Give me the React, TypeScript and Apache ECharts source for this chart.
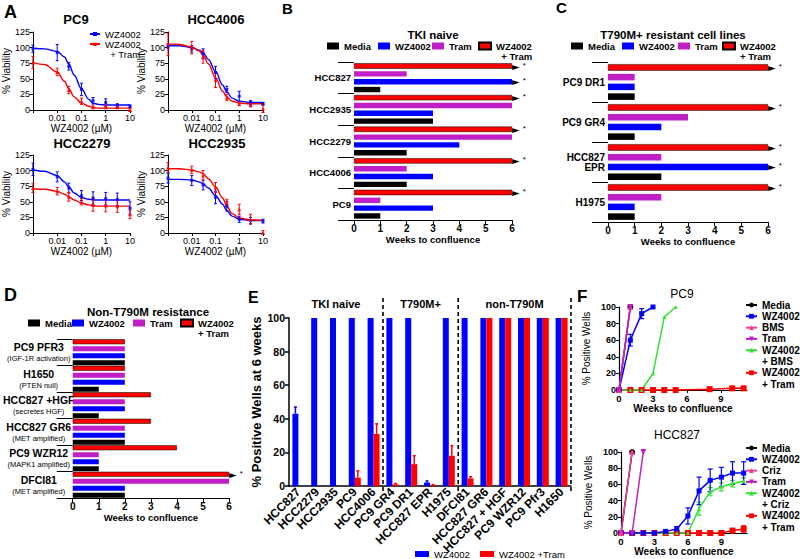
import React, { useEffect, useRef } from 'react';
import * as echarts from 'echarts';

const FONT = '"Liberation Sans", Arial, Helvetica, sans-serif';
const BLUE = '#0000ff';
const RED = '#ff0000';
const MAGENTA = '#c01fc8';
const BLACK = '#000000';
const GREEN = '#33e033';
const PINK = '#f03c96';

// ---------------- Panel A: dose response ----------------
const A_DOSES = [0.001, 0.01, 0.03, 0.1, 0.3, 1, 3, 10];
const A_FIT_DOSES = [0.001, 0.003, 0.01, 0.02, 0.03, 0.05, 0.1, 0.2, 0.3, 0.5, 1, 3, 10];
const A_X_LABELS = ['', '0.01', '0.1', '1', '10'];
const A_TITLES = ['PC9', 'HCC4006', 'HCC2279', 'HCC2935'];

const PC9_WZ = [98, 92, 70, 33, 15, 12, 7, 6];
const PC9_WZ_SD = [6, 13, 6, 10, 5, 6, 3, 2];
const PC9_WZ_FIT = [99, 98, 94, 85, 74, 56, 34, 17, 11, 9, 8, 8, 8];
const PC9_CO = [76, 61, 32, 14, 5, 5, 5, 0];
const PC9_CO_SD = [10, 6, 6, 5, 3, 3, 3, 2];
const PC9_CO_FIT = [76, 73, 61, 46, 34, 21, 11, 6, 4, 3, 3, 3, 3];

const HCC4006_WZ = [102, 98, 90, 60, 33, 22, 12, 10];
const HCC4006_WZ_SD = [4, 5, 8, 10, 5, 8, 3, 2];
const HCC4006_WZ_FIT = [103, 103, 100, 96, 92, 81, 62, 40, 29, 19, 14, 12, 12];
const HCC4006_CO = [105, 100, 85, 48, 20, 10, 8, 2];
const HCC4006_CO_SD = [18, 10, 10, 12, 5, 3, 3, 6];
const HCC4006_CO_FIT = [106, 105, 101, 95, 88, 74, 52, 30, 21, 14, 11, 10, 10];

const HCC2279_WZ = [102, 90, 72, 60, 56, 55, 54, 40];
const HCC2279_WZ_SD = [10, 8, 8, 8, 10, 10, 10, 10];
const HCC2279_WZ_FIT = [101, 99, 92, 82, 74, 64, 57, 54, 53, 53, 53, 53, 53];
const HCC2279_CO = [72, 67, 58, 50, 45, 44, 43, 30];
const HCC2279_CO_SD = [7, 6, 7, 5, 10, 10, 10, 7];
const HCC2279_CO_FIT = [71, 70, 67, 62, 58, 53, 48, 45, 44, 43, 43, 43, 43];

const HCC2935_WZ = [88, 84, 77, 57, 43, 22, 20, 19];
const HCC2935_WZ_SD = [8, 8, 8, 10, 8, 5, 5, 3];
const HCC2935_WZ_FIT = [86, 86, 85, 82, 79, 72, 60, 46, 36, 27, 22, 20, 20];
const HCC2935_CO = [105, 101, 92, 73, 48, 38, 22, 1];
const HCC2935_CO_SD = [8, 6, 8, 8, 6, 8, 8, 3];
const HCC2935_CO_FIT = [103, 103, 101, 98, 95, 87, 74, 56, 43, 31, 24, 21, 20];

// ---------------- Panel B ----------------
const B_CATS = ['HCC827', 'HCC2935', 'HCC2279', 'HCC4006', 'PC9'];
const B_MEDIA = [1, 3, 2, 2, 1];
const B_WZ = [6, 3, 4, 3, 3];
const B_TRAM = [2, 6, 6, 2, 1];
const B_COMBO = [6, 6, 6, 6, 6];
const B_WZ_CENSORED = [1, 0, 0, 0, 0];
const B_COMBO_CENSORED = [1, 1, 1, 1, 1];

// ---------------- Panel C ----------------
const C_CATS = ['PC9 DR1', 'PC9 GR4', 'HCC827\nEPR', 'H1975'];
const C_MEDIA = [1, 1, 2, 1];
const C_WZ = [1, 2, 6, 1];
const C_TRAM = [1, 3, 2, 2];
const C_COMBO = [6, 6, 6, 6];
const C_WZ_CENSORED = [0, 0, 1, 0];
const C_COMBO_CENSORED = [1, 1, 1, 1];

// ---------------- Panel D ----------------
const D_CATS = ['PC9 PFR3', 'H1650', 'HCC827 +HGF', 'HCC827 GR6', 'PC9 WZR12', 'DFCI81'];
const D_SUBS = ['(IGF-1R activation)', '(PTEN null)', '(secretes HGF)', '(MET amplified)', '(MAPK1 amplified)', '(MET amplified)'];
const D_MEDIA = [2, 1, 1, 2, 1, 2];
const D_WZ = [2, 2, 2, 2, 1, 2];
const D_TRAM = [2, 2, 2, 2, 1, 6];
const D_COMBO = [2, 2, 3, 3, 4, 6];
const D_WZ_CENSORED = [0, 0, 0, 0, 0, 0];
const D_COMBO_CENSORED = [0, 0, 0, 0, 0, 1];

// ---------------- Panel E ----------------
const E_CATS = ['HCC827', 'HCC2279', 'HCC2935', 'PC9', 'HCC4006', 'PC9 GR4', 'PC9 DR1', 'HCC827 EPR', 'H1975', 'DFCI81', 'HCC827 GR6', 'HCC827 + HGF', 'PC9 WZR12', 'PC9 Pfr3', 'H1650'];
const E_WZ = [43, 100, 100, 100, 100, 100, 100, 2, 100, 100, 100, 100, 100, 100, 100];
const E_WZ_SD = [4, 0, 0, 0, 0, 0, 0, 1, 0, 0, 0, 0, 0, 0, 0];
const E_COMBO = [0, 0, 0, 5, 31, 1, 13, 0.5, 18, 4.5, 100, 100, 100, 100, 100];
const E_COMBO_SD = [0, 0, 0, 4, 6, 0.5, 5, 0.3, 6, 1, 0, 0, 0, 0, 0];
const E_GROUP_LABELS = ['TKI naive', 'T790M+', 'non-T790M'];
const E_GROUP_FIRST = [0, 5, 9];
const E_GROUP_LAST = [4, 8, 14];

// ---------------- Panel F ----------------
const F_PC9_MEDIA = [[0, 0], [1, 100]];
const F_PC9_WZ = [[0, 0], [1, 60], [2, 92], [3, 100]];
const F_PC9_WZ_SD = [0, 7, 6, 0];
const F_PC9_BMS = [[0, 0], [1, 100]];
const F_PC9_TRAM = [[0, 0], [1, 100]];
const F_PC9_WZBMS = [[0, 0], [1, 0], [2, 0], [3, 20], [4, 88], [5, 100]];
const F_PC9_WZTRAM = [[0, 0], [1, 0], [2, 0], [3, 0], [4, 0], [5, 0], [8, 1], [10, 2], [11, 2]];

const F_827_WEEKS = [0, 1, 2, 3, 4, 5, 6, 7, 8, 9, 10, 11];
const F_827_MEDIA = [[0, 0], [1, 100]];
const F_827_CRIZ = [[0, 0], [1, 100]];
const F_827_TRAM = [[0, 0], [1, 0], [2, 100]];
const F_827_WZ = [0, 0, 0, 0, 2, 5, 21, 52, 65, 69, 74, 74];
const F_827_WZ_SD = [0, 0, 0, 0, 1, 3, 10, 17, 14, 12, 14, 14];
const F_827_WZCRIZ = [0, 0, 0, 0, 0, 0, 0, 30, 51, 57, 61, 64];
const F_827_WZCRIZ_SD = [0, 0, 0, 0, 0, 0, 0, 8, 5, 5, 4, 4];
const F_827_WZTRAM = [0, 0, 0, 0, 0, 0, 0, 0, 0, 0, 3, 5];
const F_827_WZTRAM_SD = [0, 0, 0, 0, 0, 0, 0, 0, 0, 0, 2, 4];

// ---------------- helpers ----------------
const GRIDS = [
  { left: 32, top: 32, width: 98, height: 78 },
  { left: 168, top: 32, width: 95, height: 78 },
  { left: 32, top: 155, width: 98, height: 78 },
  { left: 168, top: 155, width: 95, height: 78 },
  { left: 354, top: 62, width: 158, height: 158 },
  { left: 608, top: 62, width: 160, height: 160 },
  { left: 69, top: 339, width: 160, height: 159 },
  { left: 289, top: 318, width: 282, height: 168 },
  { left: 619, top: 307, width: 128, height: 83 },
  { left: 621, top: 452, width: 126, height: 81 },
];

const label = (n: string) => n.split('|')[1];

function errorBars(color: string, offset = 0, upOnly = false, cap = 2, width = 1) {
  return (_p: any, api: any) => {
    const x = api.value(0);
    const y = api.value(1);
    const e = api.value(2);
    const hi = api.coord([x, y + e]);
    const lo = api.coord([x, upOnly ? y : y - e]);
    const px = hi[0] + offset;
    const style = { stroke: color, lineWidth: width };
    const children: any[] = [
      { type: 'line', shape: { x1: px, y1: hi[1], x2: px, y2: lo[1] }, style },
      { type: 'line', shape: { x1: px - cap, y1: hi[1], x2: px + cap, y2: hi[1] }, style },
    ];
    if (!upOnly) children.push({ type: 'line', shape: { x1: px - cap, y1: lo[1], x2: px + cap, y2: lo[1] }, style });
    return { type: 'group', children };
  };
}

// one legend component per item, so that each icon sits exactly where the reference puts it;
// multi-line names get a leading blank line so the first text line stays level with the icon
function legendItem(name: string, left: number, cy: number, o: { w: number; h: number; fs: number; lh: number; bold?: boolean; icon?: string }) {
  const lines = label(name).split('\n').length;
  const top = cy - Math.max(o.h / 2, (lines - 0.5) * o.lh);
  const lg: any = {
    show: true,
    orient: 'horizontal',
    left,
    top,
    padding: 0,
    itemWidth: o.w,
    itemHeight: o.h,
    data: [name],
    selectedMode: false,
    formatter: (n: string) => {
      const t = label(n);
      const k = t.split('\n').length;
      return k > 1 ? '\n'.repeat(k - 1) + t : t;
    },
    textStyle: {
      fontFamily: FONT,
      fontSize: o.fs,
      fontWeight: o.bold ? 'bold' : 'normal',
      color: '#000',
      lineHeight: o.lh,
    },
  };
  if (o.icon) lg.icon = o.icon;
  return lg;
}

const axisBlack = { lineStyle: { color: '#000', width: 1 } };

function buildOption() {
  const xAxes: any[] = [];
  const yAxes: any[] = [];
  const series: any[] = [];
  const legends: any[] = [];

  // ----- Panel A -----
  const A_WZ = [PC9_WZ, HCC4006_WZ, HCC2279_WZ, HCC2935_WZ];
  const A_WZ_SD = [PC9_WZ_SD, HCC4006_WZ_SD, HCC2279_WZ_SD, HCC2935_WZ_SD];
  const A_WZ_FIT = [PC9_WZ_FIT, HCC4006_WZ_FIT, HCC2279_WZ_FIT, HCC2935_WZ_FIT];
  const A_CO = [PC9_CO, HCC4006_CO, HCC2279_CO, HCC2935_CO];
  const A_CO_SD = [PC9_CO_SD, HCC4006_CO_SD, HCC2279_CO_SD, HCC2935_CO_SD];
  const A_CO_FIT = [PC9_CO_FIT, HCC4006_CO_FIT, HCC2279_CO_FIT, HCC2935_CO_FIT];
  for (let p = 0; p < 4; p++) {
    xAxes.push({
      type: 'log', gridIndex: p, logBase: 10, min: 0.001, max: 10,
      axisLine: axisBlack, axisTick: { length: 3, lineStyle: { color: '#000' } },
      splitLine: { show: false }, minorTick: { show: false },
      axisLabel: {
        fontSize: 9, color: '#000', fontFamily: FONT, margin: 3,
        formatter: (v: number) => A_X_LABELS[Math.round(Math.log10(v)) + 3] ?? '',
      },
      name: 'WZ4002 (\u00b5M)', nameLocation: 'middle', nameGap: 13,
      nameTextStyle: { fontSize: 10, color: '#000', fontFamily: FONT },
    });
    yAxes.push({
      type: 'value', gridIndex: p, min: 0, max: 125, interval: 25,
      axisLine: { show: true, ...axisBlack }, axisTick: { show: true, length: 3, lineStyle: { color: '#000' } },
      splitLine: { show: false },
      axisLabel: { fontSize: 9, color: '#000', fontFamily: FONT, margin: 3 },
      name: '% Viability', nameLocation: 'middle', nameGap: 16,
      nameTextStyle: { fontSize: 10, color: '#000', fontFamily: FONT },
    });
    const defs = [
      { key: 'WZ4002', color: BLUE, sym: 'rect', mean: A_WZ[p], sd: A_WZ_SD[p], fit: A_WZ_FIT[p] },
      { key: 'WZ4002\n  + Tram', color: RED, sym: 'triangle', mean: A_CO[p], sd: A_CO_SD[p], fit: A_CO_FIT[p] },
    ];
    defs.forEach((d, k) => {
      series.push({
        type: 'line', name: `A${p}|${d.key}`, xAxisIndex: p, yAxisIndex: p,
        data: A_FIT_DOSES.map((x, i) => [x, d.fit[i]]),
        smooth: 0.35, smoothMonotone: 'x', showSymbol: false, symbol: d.sym, symbolSize: 4,
        lineStyle: { color: d.color, width: 1.4 }, itemStyle: { color: d.color }, z: 3,
      });
      series.push({
        type: 'scatter', name: `A${p}|pts${k}`, xAxisIndex: p, yAxisIndex: p,
        data: A_DOSES.map((x, i) => [x, d.mean[i]]),
        symbol: d.sym, symbolSize: k === 0 ? 3 : 4, itemStyle: { color: d.color }, z: 4,
      });
      series.push({
        type: 'custom', name: `A${p}|err${k}`, xAxisIndex: p, yAxisIndex: p,
        data: A_DOSES.map((x, i) => [x, d.mean[i], d.sd[i]]),
        renderItem: errorBars(d.color, 0, false, 1.5, 1), encode: { x: 0, y: 1 }, z: 4, silent: true,
      });
    });
  }
  legends.push(legendItem('A0|WZ4002', 89, 34, { w: 10, h: 5, fs: 9.5, lh: 10 }));
  legends.push(legendItem('A0|WZ4002\n  + Tram', 89, 44, { w: 10, h: 5, fs: 9.5, lh: 10 }));

  // ----- Panels B, C, D -----
  const barPanel = (
    prefix: string, gi: number, cats: string[], media: number[], wz: number[], tram: number[], combo: number[],
    wzC: number[], coC: number[], comboName: string, barW: number, gap: string, labelOpts: any,
  ) => {
    xAxes.push({
      type: 'value', gridIndex: gi, min: 0, max: 6, interval: 1,
      axisLine: { show: true, ...axisBlack }, axisTick: { show: true, length: 4, lineStyle: { color: '#000' } },
      splitLine: { show: false },
      axisLabel: { fontSize: 10, fontWeight: 'bold', color: '#000', fontFamily: FONT, margin: 3 },
      name: 'Weeks to confluence', nameLocation: 'middle', nameGap: 14,
      nameTextStyle: { fontSize: 9.5, fontWeight: 'bold', color: '#000', fontFamily: FONT },
    });
    yAxes.push({
      type: 'category', gridIndex: gi, inverse: true, data: cats,
      axisLine: { show: false }, axisTick: { show: true, length: 16, lineStyle: { color: '#000' } },
      splitLine: { show: false },
      axisLabel: { color: '#000', fontFamily: FONT, ...labelOpts },
    });
    const mk = (nm: string, color: string, vals: number[], cens: number[] | null, border: boolean) => ({
      type: 'bar', name: `${prefix}|${nm}`, xAxisIndex: gi, yAxisIndex: gi,
      barWidth: barW, barGap: gap,
      itemStyle: border ? { color, borderColor: '#000', borderWidth: 0.5 } : { color },
      data: vals.map((v, i) => ({ value: v, label: { show: !!(cens && cens[i]) } })),
      label: {
        show: false, position: 'right', distance: 0, formatter: '{a|\u25ba}{b|*}',
        rich: {
          a: { fontSize: 10, color: '#000', fontFamily: 'DejaVu Sans' },
          b: { fontSize: 8, color: '#000', padding: [0, 0, 2, 3] },
        },
      },
    });
    // first series is drawn at the top of each category band
    series.push(
      mk(comboName, RED, combo, coC, true),
      mk('Tram', MAGENTA, tram, null, false),
      mk('WZ4002', BLUE, wz, wzC, false),
      mk('Media', BLACK, media, null, false),
    );
  };
  barPanel('B', 4, B_CATS, B_MEDIA, B_WZ, B_TRAM, B_COMBO, B_WZ_CENSORED, B_COMBO_CENSORED, 'WZ4002\n  + Tram', 5.4, '45%',
    { fontSize: 9.5, fontWeight: 'bold', margin: 3 });
  barPanel('C', 5, C_CATS, C_MEDIA, C_WZ, C_TRAM, C_COMBO, C_WZ_CENSORED, C_COMBO_CENSORED, 'WZ4002\n+ Tram', 6.5, '50%',
    { fontSize: 10, fontWeight: 'bold', margin: 3 });
  barPanel('D', 6, D_CATS, D_MEDIA, D_WZ, D_TRAM, D_COMBO, D_WZ_CENSORED, D_COMBO_CENSORED, 'WZ4002\n+ Tram', 5, '40%',
    {
      margin: 34, align: 'center',
      formatter: (v: string, i: number) => `{n|${v}}\n{s|${D_SUBS[i]}}`,
      rich: {
        n: { fontSize: 10.5, fontWeight: 'bold', color: '#000', fontFamily: FONT, lineHeight: 13 },
        s: { fontSize: 7.5, color: '#000', fontFamily: FONT, lineHeight: 10 },
      },
    });
  const barLeg = { w: 12, h: 7, fs: 9.5, lh: 10, bold: true, icon: 'rect' };
  [['B|Media', 327], ['B|WZ4002', 378], ['B|Tram', 432], ['B|WZ4002\n  + Tram', 478]].forEach(([n, l]) =>
    legends.push(legendItem(n as string, l as number, 46, barLeg)));
  [['C|Media', 571], ['C|WZ4002', 622], ['C|Tram', 678], ['C|WZ4002\n+ Tram', 722]].forEach(([n, l]) =>
    legends.push(legendItem(n as string, l as number, 46, barLeg)));
  [['D|Media', 28], ['D|WZ4002', 72], ['D|Tram', 133], ['D|WZ4002\n+ Tram', 180]].forEach(([n, l]) =>
    legends.push(legendItem(n as string, l as number, 323, barLeg)));

  // ----- Panel E -----
  xAxes.push({
    type: 'category', gridIndex: 7, data: E_CATS,
    axisLine: { show: true, lineStyle: { color: '#000', width: 1.5 } }, axisTick: { show: false },
    axisLabel: { interval: 0, rotate: 45, fontSize: 12, fontWeight: 'bold', color: '#000', fontFamily: FONT, margin: 4 },
  });
  yAxes.push({
    type: 'value', gridIndex: 7, min: 0, max: 100, interval: 20,
    axisLine: { show: true, lineStyle: { color: '#000', width: 1.5 } },
    axisTick: { show: true, length: 4, lineStyle: { color: '#000', width: 1.5 } },
    splitLine: { show: false },
    axisLabel: { fontSize: 10.5, fontWeight: 'bold', color: '#000', fontFamily: FONT, margin: 4 },
    name: '% Positive Wells at 6 weeks', nameLocation: 'middle', nameGap: 26,
    nameTextStyle: { fontSize: 13, fontWeight: 'bold', color: '#000', fontFamily: FONT },
  });
  series.push(
    { type: 'bar', name: 'E|WZ4002', xAxisIndex: 7, yAxisIndex: 7, data: E_WZ, barWidth: 6, barGap: '0%', itemStyle: { color: BLUE } },
    { type: 'bar', name: 'E|WZ4002 +Tram', xAxisIndex: 7, yAxisIndex: 7, data: E_COMBO, barWidth: 6, barGap: '0%', itemStyle: { color: RED } },
    {
      type: 'custom', name: 'E|err0', xAxisIndex: 7, yAxisIndex: 7, encode: { x: 0, y: 1 }, silent: true, z: 5,
      data: E_WZ.map((v, i) => [i, v, E_WZ_SD[i]]).filter((d) => d[2] > 0),
      renderItem: errorBars(BLUE, -3, true, 1.5, 1.5),
    },
    {
      type: 'custom', name: 'E|err1', xAxisIndex: 7, yAxisIndex: 7, encode: { x: 0, y: 1 }, silent: true, z: 5,
      data: E_COMBO.map((v, i) => [i, v, E_COMBO_SD[i]]).filter((d) => d[2] > 0),
      renderItem: errorBars(RED, 3, true, 1.5, 1.5),
    },
  );
  legends.push(legendItem('E|WZ4002', 415, 554, { w: 14, h: 6, fs: 9.5, lh: 10, icon: 'rect' }));
  legends.push(legendItem('E|WZ4002 +Tram', 480, 554, { w: 14, h: 6, fs: 9.5, lh: 10, icon: 'rect' }));

  // ----- Panel F -----
  const fAxes = (gi: number) => {
    xAxes.push({
      type: 'value', gridIndex: gi, min: 0, max: 11.3, interval: 3,
      axisLine: { show: true, lineStyle: { color: '#000', width: 1.2 } },
      axisTick: { show: true, length: 3, lineStyle: { color: '#000' } },
      splitLine: { show: false },
      axisLabel: { fontSize: 9.5, fontWeight: 'bold', color: '#000', fontFamily: FONT, margin: 3, showMaxLabel: false },
      name: 'Weeks to confluence', nameLocation: 'middle', nameGap: 12,
      nameTextStyle: { fontSize: 10, fontWeight: 'bold', color: '#000', fontFamily: FONT },
    });
    yAxes.push({
      type: 'value', gridIndex: gi, min: 0, max: 100, interval: 20,
      axisLine: { show: true, lineStyle: { color: '#000', width: 1.2 } },
      axisTick: { show: true, length: 3, lineStyle: { color: '#000' } },
      splitLine: { show: false },
      axisLabel: { fontSize: 9, fontWeight: 'bold', color: '#000', fontFamily: FONT, margin: 3 },
      name: '% Positive Wells', nameLocation: 'middle', nameGap: 28,
      nameTextStyle: { fontSize: 10, color: '#000', fontFamily: FONT },
    });
  };
  fAxes(8);
  fAxes(9);
  const TRI_DOWN = 'path://M0,0L10,0L5,9Z';
  const fLine = (gi: number, name: string, data: number[][], color: string, symbol: string, size: number, z = 3) => ({
    type: 'line', name, xAxisIndex: gi, yAxisIndex: gi, data, color, symbol, symbolSize: size, showSymbol: true,
    lineStyle: { color, width: 1.5 }, itemStyle: { color }, clip: false, z,
  });
  const fErr = (gi: number, name: string, data: number[][], color: string) => ({
    type: 'custom', name, xAxisIndex: gi, yAxisIndex: gi, encode: { x: 0, y: 1 }, silent: true, z: 2,
    data: data.filter((d) => d[2] > 0), renderItem: errorBars(color, 0, false, 2.5, 1.2),
  });
  series.push(
    fLine(8, 'F0|WZ4002\n+ Tram', F_PC9_WZTRAM, RED, 'rect', 6),
    fLine(8, 'F0|WZ4002\n+ BMS', F_PC9_WZBMS, GREEN, 'triangle', 4),
    fLine(8, 'F0|WZ4002', F_PC9_WZ, BLUE, 'rect', 5),
    fErr(8, 'F0|err', F_PC9_WZ.map((d, i) => [d[0], d[1], F_PC9_WZ_SD[i]]), BLUE),
    fLine(8, 'F0|BMS', F_PC9_BMS, PINK, 'triangle', 6),
    fLine(8, 'F0|Tram', F_PC9_TRAM, MAGENTA, TRI_DOWN, 6),
    fLine(8, 'F0|Media', F_PC9_MEDIA, BLACK, 'circle', 6, 2),
  );
  series.push(
    fLine(9, 'F1|WZ4002\n+ Tram', F_827_WEEKS.map((w, i) => [w, F_827_WZTRAM[i]]), RED, 'rect', 6),
    fErr(9, 'F1|err2', F_827_WEEKS.map((w, i) => [w, F_827_WZTRAM[i], F_827_WZTRAM_SD[i]]), RED),
    fLine(9, 'F1|WZ4002\n+ Criz', F_827_WEEKS.map((w, i) => [w, F_827_WZCRIZ[i]]), GREEN, 'triangle', 4),
    fErr(9, 'F1|err1', F_827_WEEKS.map((w, i) => [w, F_827_WZCRIZ[i], F_827_WZCRIZ_SD[i]]), GREEN),
    fLine(9, 'F1|WZ4002', F_827_WEEKS.map((w, i) => [w, F_827_WZ[i]]), BLUE, 'rect', 5),
    fErr(9, 'F1|err0', F_827_WEEKS.map((w, i) => [w, F_827_WZ[i], F_827_WZ_SD[i]]), BLUE),
    fLine(9, 'F1|Tram', F_827_TRAM, MAGENTA, TRI_DOWN, 6),
    fLine(9, 'F1|Criz', F_827_CRIZ, PINK, 'triangle', 6),
    fLine(9, 'F1|Media', F_827_MEDIA, BLACK, 'circle', 6, 2),
  );
  const fLeg = { w: 11, h: 6, fs: 10, lh: 11.3, bold: true };
  const fItems = (names: string[], cy0: number) => {
    let lineIdx = 0;
    names.forEach((n) => {
      legends.push(legendItem(n, 745, cy0 + lineIdx * 11.3, fLeg));
      lineIdx += label(n).split('\n').length;
    });
  };
  fItems(['F0|Media', 'F0|WZ4002', 'F0|BMS', 'F0|Tram', 'F0|WZ4002\n+ BMS', 'F0|WZ4002\n+ Tram'], 305);
  fItems(['F1|Media', 'F1|WZ4002', 'F1|Criz', 'F1|Tram', 'F1|WZ4002\n+ Criz', 'F1|WZ4002\n+ Tram'], 448);

  return {
    animation: false,
    backgroundColor: '#ffffff',
    textStyle: { fontFamily: FONT },
    tooltip: { show: false },
    grid: GRIDS.map((g) => ({ ...g, containLabel: false })),
    xAxis: xAxes,
    yAxis: yAxes,
    legend: legends,
    series,
  };
}

function staticGraphics() {
  const txt = (text: string, x: number, y: number, fs: number, bold: boolean, align = 'center') => ({
    type: 'text', x, y, silent: true,
    style: { text, fontSize: fs, fontWeight: bold ? 'bold' : 'normal', fontFamily: FONT, fill: '#000', align, verticalAlign: 'middle' },
  });
  return [
    txt('A', 4, 12, 18, true, 'left'),
    txt('B', 282, 8, 15, true, 'left'),
    txt('C', 556, 7, 15, true, 'left'),
    txt('D', 4, 295, 18, true, 'left'),
    txt('E', 248, 297, 16, true, 'left'),
    txt('F', 577, 296, 17, true, 'left'),
    txt(A_TITLES[0], 76, 19, 13, true),
    txt(A_TITLES[1], 216, 19, 13, true),
    txt(A_TITLES[2], 82, 143, 13, true),
    txt(A_TITLES[3], 217, 143, 13, true),
    txt('TKI naive', 433, 35, 11.5, true),
    txt('T790M+ resistant cell lines', 673, 35, 11.5, true),
    txt('Non-T790M resistance', 148, 312, 11.5, true),
    txt('PC9', 682, 294, 12, false),
    txt('HCC827', 677, 435, 12, false),
  ];
}

export default function App() {
  const ref = useRef<HTMLDivElement>(null);
  useEffect(() => {
    if (!ref.current) return;
    const chart = echarts.init(ref.current, undefined, { renderer: 'svg' });
    chart.setOption(buildOption() as any);
    const px = (i: number) => chart.convertToPixel({ xAxisIndex: 7 }, i) as unknown as number;
    const graphics: any[] = staticGraphics();
    const dashed = (x: number) => ({
      type: 'line', silent: true,
      shape: { x1: x, y1: 298, x2: x, y2: 493 },
      style: { stroke: '#000', lineWidth: 1.6, lineDash: [4, 3] },
    });
    const half = (px(1) - px(0)) / 2;
    E_GROUP_LABELS.forEach((t, g) => {
      const cx = (px(E_GROUP_FIRST[g]) + px(E_GROUP_LAST[g])) / 2;
      graphics.push({
        type: 'text', x: cx, y: 304, silent: true,
        style: { text: t, fontSize: 11, fontWeight: 'bold', fontFamily: FONT, fill: '#000', align: 'center', verticalAlign: 'middle' },
      });
      graphics.push(dashed(px(E_GROUP_LAST[g]) + half));
    });
    chart.setOption({ graphic: graphics });
    return () => chart.dispose();
  }, []);
  return <div ref={ref} style={{ position: 'absolute', left: 0, top: 0, width: 800, height: 559 }} />;
}
